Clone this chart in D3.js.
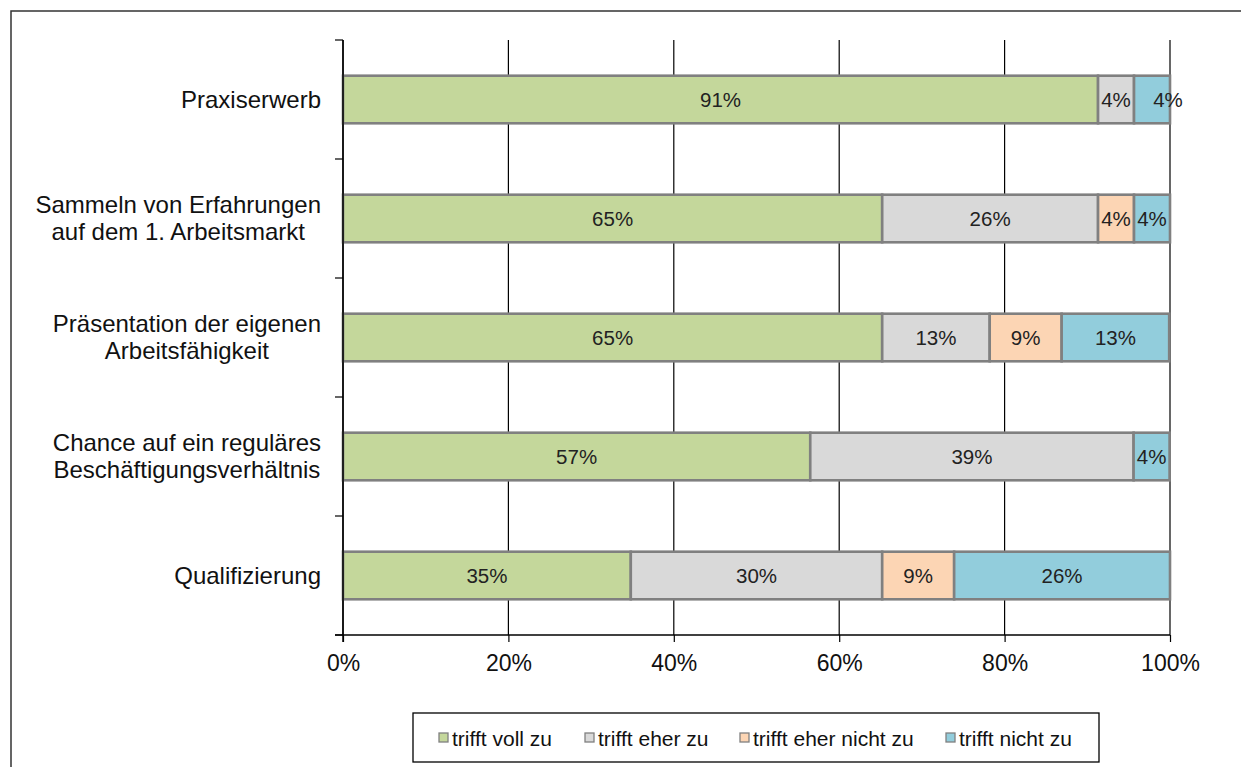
<!DOCTYPE html>
<html><head><meta charset="utf-8">
<script src="https://cdn.jsdelivr.net/npm/d3@7"></script>
<style>
html,body{margin:0;padding:0;background:#fff;}
svg{display:block;font-family:"Liberation Sans",Arial,sans-serif;}
</style></head>
<body><svg id="chart" width="1241" height="767"></svg>
<script>
const categories = [
  ["Praxiserwerb"],
  ["Sammeln von Erfahrungen", "auf dem 1. Arbeitsmarkt"],
  ["Präsentation der eigenen", "Arbeitsfähigkeit"],
  ["Chance auf ein reguläres", "Beschäftigungsverhältnis"],
  ["Qualifizierung"]
];
const seriesNames = ["trifft voll zu", "trifft eher zu", "trifft eher nicht zu", "trifft nicht zu"];
const trifftVollZu      = [91.3, 65.2, 65.2, 56.5, 34.8];
const trifftEherZu      = [4.35, 26.1, 13.0, 39.1, 30.4];
const trifftEherNichtZu = [0,    4.35, 8.7,  0,    8.7];
const trifftNichtZu     = [4.35, 4.35, 13.0, 4.35, 26.1];
const xTicks = [0, 20, 40, 60, 80, 100];
const colors = ["#C4D79B", "#D9D9D9", "#FCD5B4", "#92CDDC"];

const series = [trifftVollZu, trifftEherZu, trifftEherNichtZu, trifftNichtZu];
const svg = d3.select("#chart");

// outer frame
svg.append("rect").attr("x", 11).attr("y", 11).attr("width", 1250).attr("height", 780)
  .attr("fill", "none").attr("stroke", "#333").attr("stroke-width", 1.5);

const x = d3.scaleLinear().domain([0, 100]).range([343, 1170]);
const y = d3.scaleBand().domain(d3.range(categories.length)).range([40, 635])
  .paddingInner(0.6).paddingOuter(0.3);

// gridlines
svg.append("g").selectAll("line").data(xTicks).join("line")
  .attr("x1", d => x(d)).attr("x2", d => x(d)).attr("y1", 40).attr("y2", 635)
  .attr("stroke", "#000").attr("stroke-width", 1.2);

// stacked data
const rows = categories.map((c, i) => {
  let acc = 0;
  return series.map((s, j) => { const v = s[i]; const seg = {i, j, x0: acc, x1: acc + v, v}; acc += v; return seg; });
});

const bars = svg.append("g");
rows.forEach(r => r.forEach(s => {
  if (s.v <= 0) return;
  bars.append("rect")
    .attr("x", x(s.x0)).attr("y", y(s.i))
    .attr("width", x(s.x1) - x(s.x0)).attr("height", y.bandwidth())
    .attr("fill", colors[s.j]).attr("stroke", "#808080").attr("stroke-width", 2.6);
}));
rows.forEach(r => r.forEach(s => {
  if (s.v <= 0) return;
  let cx = (x(s.x0) + x(s.x1)) / 2;
  if (s.i === 0 && s.j === 3) cx += 16;
  bars.append("text")
    .attr("x", cx).attr("y", y(s.i) + y.bandwidth() / 2 + 7)
    .attr("text-anchor", "middle").attr("font-size", 20.5).attr("fill", "#222")
    .text(Math.round(s.v) + "%");
}));

// axes
const xAxis = svg.append("g").attr("transform", "translate(0,635)")
  .call(d3.axisBottom(x).tickValues(xTicks).tickSize(7).tickFormat(d => d + "%"));
xAxis.select(".domain").remove();
xAxis.append("line").attr("x1", 335).attr("x2", 1170).attr("stroke", "#000").attr("stroke-width", 1.5);
xAxis.selectAll(".tick line").attr("stroke", "#000").attr("stroke-width", 1.2);
xAxis.selectAll(".tick text").attr("font-size", 23).attr("fill", "#111")
  .attr("font-family", "Liberation Sans, Arial, sans-serif").attr("dy", null).attr("y", 36);

const yBounds = d3.range(categories.length + 1).map(k => 40 + k * y.step());
svg.append("line").attr("x1", 343).attr("x2", 343).attr("y1", 40).attr("y2", 642)
  .attr("stroke", "#000").attr("stroke-width", 1.5);
svg.append("g").selectAll("line").data(yBounds).join("line")
  .attr("x1", 335).attr("x2", 343).attr("y1", d => d).attr("y2", d => d)
  .attr("stroke", "#000").attr("stroke-width", 1.2);

// category labels
const labG = svg.append("g").attr("font-size", 24).attr("fill", "#111");
categories.forEach((lines, i) => {
  const cy = y(i) + y.bandwidth() / 2;
  const lh = 27;
  const tmp = lines.map((l, k) => labG.append("text").attr("text-anchor", "middle")
    .attr("y", cy + (k - (lines.length - 1) / 2) * lh + 8).text(l));
  const maxW = d3.max(tmp, t => t.node().getComputedTextLength());
  const center = 321 - maxW / 2;
  tmp.forEach(t => t.attr("x", center));
});

// legend
const lg = svg.append("g");
lg.append("rect").attr("x", 413).attr("y", 713).attr("width", 686).attr("height", 49)
  .attr("fill", "#fff").attr("stroke", "#000").attr("stroke-width", 1.3);
const legX = [439, 585, 740, 946];
seriesNames.forEach((n, j) => {
  lg.append("rect").attr("x", legX[j]).attr("y", 733).attr("width", 9).attr("height", 9)
    .attr("fill", colors[j]).attr("stroke", "#808080").attr("stroke-width", 1.3);
  lg.append("text").attr("x", legX[j] + 13).attr("y", 745.5).attr("font-size", 21)
    .attr("fill", "#111").text(n);
});
</script></body></html>
